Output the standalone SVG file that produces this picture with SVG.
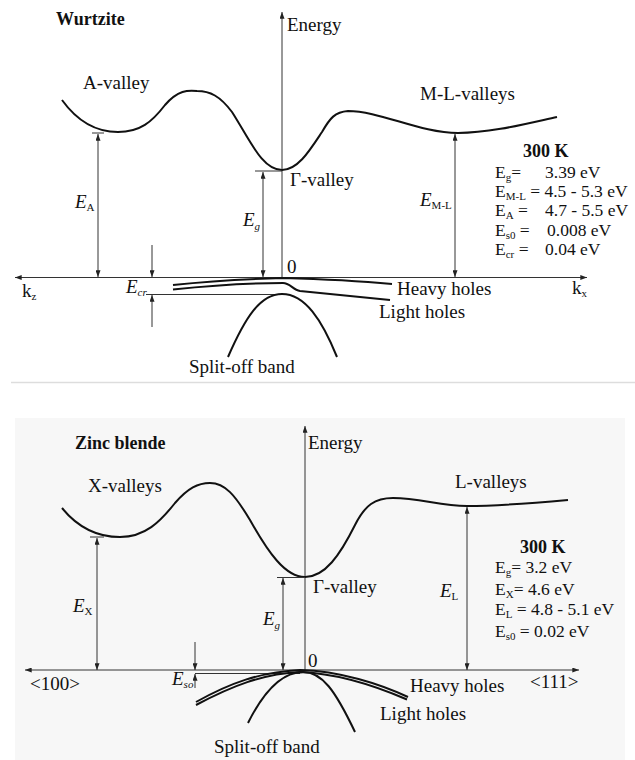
<svg xmlns="http://www.w3.org/2000/svg" width="635" height="760" viewBox="0 0 635 760">
<defs>
<marker id="ah" viewBox="0 0 8 6" refX="8" refY="3" markerWidth="7" markerHeight="5" markerUnits="userSpaceOnUse" orient="auto-start-reverse">
<path d="M0,0 L8,3 L0,6 z" fill="#222"/>
</marker>
</defs>
<style>
text{font-family:"Liberation Serif","Times New Roman",serif;fill:#111;font-size:19px}
.b{font-weight:bold;font-size:18px}
.v{font-size:17.5px}
.i{font-style:italic}
.s{font-size:11px}
.thin{stroke:#333;stroke-width:1;fill:none}
.band{stroke:#111;stroke-width:2;fill:none}
.arr{stroke:#333;stroke-width:1;fill:none;marker-start:url(#ah);marker-end:url(#ah)}
.one{stroke:#333;stroke-width:1;fill:none;marker-end:url(#ah)}
</style>
<rect x="0" y="0" width="635" height="760" fill="#fff"/>
<line x1="11" y1="382.5" x2="635" y2="382.5" stroke="#ddd" stroke-width="1.5"/>
<rect x="15" y="418" width="610" height="342" fill="#f7f7f7"/>

<!-- ===== Wurtzite ===== -->
<g id="wurtzite-title"><text class="b" x="56" y="25">Wurtzite</text></g>
<g id="w-axes">
<line class="one" x1="282" y1="277.5" x2="282" y2="12"/>
<text x="287" y="31">Energy</text>
<line class="arr" x1="15" y1="277.5" x2="587" y2="277.5"/>
<text x="22" y="297">k<tspan class="s" dy="3">z</tspan></text>
<text x="572" y="294">k<tspan class="s" dy="3">x</tspan></text>
<text x="287" y="273">0</text>
</g>
<g id="w-conduction">
<path class="band" d="M62,100 C80,125 100,132 118,132 C140,132 152,122 165,105 C178,90 188,90 197,91 C210,91 220,96 232,112 C250,140 262,170 282,170 C298,170 310,150 322,132 C330,118 335,112 348,111 C380,111 420,133 458,133 C490,133 525,124 557,117"/>
<text x="83" y="89">A-valley</text>
<text x="420" y="100">M-L-valleys</text>
<text x="290" y="186">Γ-valley</text>
</g>
<g id="w-EA">
<line class="thin" x1="92" y1="133" x2="104" y2="133"/>
<line class="arr" x1="98" y1="134" x2="98" y2="277"/>
<text class="i" x="75" y="208">E<tspan class="s" font-style="normal" dy="3">A</tspan></text>
</g>
<g id="w-Eg">
<line class="thin" x1="255" y1="171" x2="282" y2="171"/>
<line class="arr" x1="263" y1="172" x2="263" y2="277"/>
<text class="i" x="243" y="226">E<tspan class="s" dy="4">g</tspan></text>
</g>
<g id="w-EML">
<line class="arr" x1="455" y1="134" x2="455" y2="277"/>
<text class="i" x="420" y="206">E<tspan class="s" font-style="normal" dy="3">M-L</tspan></text>
</g>
<g id="w-Ecr">
<line class="one" x1="152" y1="245" x2="152" y2="277"/>
<line class="one" x1="152" y1="327" x2="152" y2="295"/>
<line class="thin" x1="146" y1="294.5" x2="282" y2="294.5"/>
<text class="i" x="126" y="293">E<tspan class="s" dy="3">cr</tspan></text>
</g>
<g id="w-valence">
<path class="band" d="M173,285 C210,281 245,279 283,278 C320,279 360,281 392,284"/>
<path class="band" stroke-width="1.8" d="M173,289.5 C210,285.5 250,283 283,283 C290,283 293,290 300,291 C330,294 360,297 390,300"/>
<path class="band" d="M228,357 C245,318 260,294 282,294 C305,294 322,320 337,357"/>
<text x="397" y="295">Heavy holes</text>
<text x="379" y="318">Light holes</text>
<text x="189" y="373">Split-off band</text>
</g>
<g id="w-values">
<text class="b" x="523" y="157">300 K</text>
<text class="v" x="495" y="178">E<tspan class="s" dy="3">g</tspan><tspan dy="-3">=</tspan></text>
<text class="v" x="545" y="178">3.39 eV</text>
<text class="v" x="495" y="197">E<tspan class="s" dy="2.5">M-L</tspan><tspan dy="-2.5"> = 4.5 - 5.3 eV</tspan></text>
<text class="v" x="495" y="216">E<tspan class="s" dy="2.5">A</tspan><tspan dy="-2.5"> =</tspan></text>
<text class="v" x="545" y="216">4.7 - 5.5 eV</text>
<text class="v" x="495" y="236">E<tspan class="s" dy="2.5">s0</tspan><tspan dy="-2.5"> =</tspan></text>
<text class="v" x="547" y="236">0.008 eV</text>
<text class="v" x="495" y="255">E<tspan class="s" dy="2.5">cr</tspan><tspan dy="-2.5"> =</tspan></text>
<text class="v" x="545" y="255">0.04 eV</text>
</g>

<!-- ===== Zinc blende ===== -->
<g id="zb-title"><text class="b" x="75" y="449">Zinc blende</text></g>
<g id="zb-axes">
<line class="one" x1="305" y1="670" x2="305" y2="426"/>
<text x="308" y="449">Energy</text>
<line class="arr" x1="25" y1="670" x2="579" y2="670"/>
<text x="30" y="690">&lt;100&gt;</text>
<text x="530" y="688">&lt;111&gt;</text>
<text x="308" y="667">0</text>
</g>
<g id="zb-conduction">
<path class="band" d="M62,508 C80,530 100,537 120,537 C145,537 160,522 175,503 C188,488 198,483 210,483 C225,483 235,495 250,520 C268,552 285,577 305,577 C325,577 340,555 355,525 C365,505 375,498 393,498 C420,498 440,506 467,506 C500,506 535,503 568,500"/>
<text x="88" y="492">X-valleys</text>
<text x="455" y="488">L-valleys</text>
<text x="313" y="593">Γ-valley</text>
</g>
<g id="zb-EX">
<line class="thin" x1="90" y1="537" x2="104" y2="537"/>
<line class="arr" x1="97" y1="538" x2="97" y2="670"/>
<text class="i" x="73" y="612">E<tspan class="s" font-style="normal" dy="3">X</tspan></text>
</g>
<g id="zb-Eg">
<line class="thin" x1="277" y1="577.5" x2="305" y2="577.5"/>
<line class="arr" x1="283" y1="578" x2="283" y2="670"/>
<text class="i" x="263" y="625">E<tspan class="s" dy="4">g</tspan></text>
</g>
<g id="zb-EL">
<line class="arr" x1="467" y1="507" x2="467" y2="670"/>
<text class="i" x="440" y="597">E<tspan class="s" font-style="normal" dy="3">L</tspan></text>
</g>
<g id="zb-Eso">
<line class="one" x1="195" y1="642" x2="195" y2="670"/>
<line class="one" x1="195" y1="688" x2="195" y2="674"/>
<line class="thin" x1="195" y1="673.5" x2="300" y2="673.5"/>
<text class="i" x="172" y="685">E<tspan class="s" dy="3">so</tspan></text>
</g>
<g id="zb-valence">
<path class="band" stroke-width="2.2" d="M196,702 C230,683 260,672 300,670 C340,671 380,684 408,697"/>
<path class="band" stroke-width="1.2" d="M196,705 C232,686 262,674 300,672 C340,673.5 378,687 407,699.5"/>
<path class="band" d="M248,723 C262,695 280,672 303,672 C322,672 335,690 355,732"/>
<text x="410" y="692">Heavy holes</text>
<text x="380" y="720">Light holes</text>
<text x="214" y="753">Split-off band</text>
</g>
<g id="zb-values">
<text class="b" x="520" y="553">300 K</text>
<text class="v" x="495" y="573">E<tspan class="s" dy="3">g</tspan><tspan dy="-3">= 3.2 eV</tspan></text>
<text class="v" x="495" y="595">E<tspan class="s" dy="3">X</tspan><tspan dy="-3">= 4.6 eV</tspan></text>
<text class="v" x="495" y="615">E<tspan class="s" dy="3">L</tspan><tspan dy="-3"> = 4.8 - 5.1 eV</tspan></text>
<text class="v" x="495" y="637">E<tspan class="s" dy="3">s0</tspan><tspan dy="-3"> = 0.02 eV</tspan></text>
</g>
</svg>
